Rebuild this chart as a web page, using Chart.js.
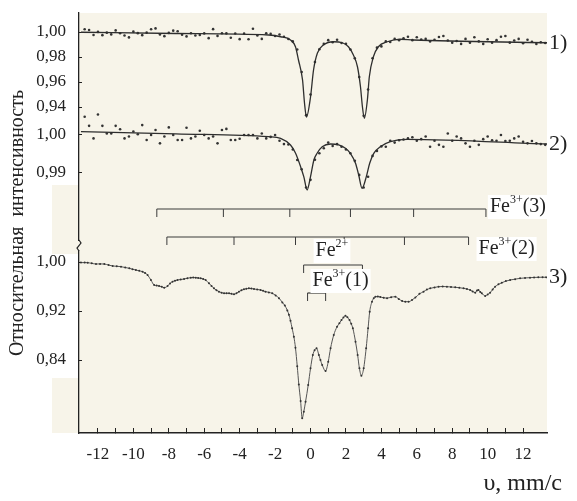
<!DOCTYPE html>
<html lang="ru">
<head>
<meta charset="UTF-8">
<title>Мёссбауэровские спектры</title>
<script src="https://cdn.jsdelivr.net/npm/chart.js"></script>
<style>
  html, body { margin: 0; padding: 0; background: #fff; }
  canvas { display: block; }
</style>
</head>
<body>
<canvas id="spectra" width="577" height="501"></canvas>
<script>
// channel velocities (mm/s) of the measured points in spectra 1) and 2)
const velocity = [
  -12.75, -12.5, -12.25, -12, -11.75, -11.5, -11.25, -11, -10.75, -10.5,
  -10.25, -10, -9.75, -9.5, -9.25, -9, -8.75, -8.5, -8.25, -8,
  -7.75, -7.5, -7.25, -7, -6.75, -6.5, -6.25, -6, -5.75, -5.5,
  -5.25, -5, -4.75, -4.5, -4.25, -4, -3.75, -3.5, -3.25, -3,
  -2.75, -2.5, -2.25, -2, -1.75, -1.5, -1.25, -1, -0.75, -0.5,
  -0.25, 0, 0.25, 0.5, 0.75, 1, 1.25, 1.5, 1.75, 2,
  2.25, 2.5, 2.75, 3, 3.25, 3.5, 3.75, 4, 4.25, 4.5,
  4.75, 5, 5.25, 5.5, 5.75, 6, 6.25, 6.5, 6.75, 7,
  7.25, 7.5, 7.75, 8, 8.25, 8.5, 8.75, 9, 9.25, 9.5,
  9.75, 10, 10.25, 10.5, 10.75, 11, 11.25, 11.5, 11.75, 12,
  12.25, 12.5, 12.75, 13, 13.25
];

// spectrum 1) measured points
const spectrum1 = [
  1.0022, 1.0016, 0.9976, 1.0001, 0.9975, 0.9995, 0.9981, 1.0013, 0.9990, 0.9972,
  0.9957, 1.0003, 0.9991, 0.9975, 0.9995, 1.0022, 1.0029, 0.9981, 0.9967, 0.9993,
  1.0011, 1.0006, 0.9978, 0.9965, 0.9990, 0.9972, 0.9976, 0.9989, 0.9951, 1.0023,
  0.9969, 0.9990, 0.9989, 0.9954, 0.9988, 0.9943, 0.9987, 0.9942, 1.0026, 0.9973,
  0.9945, 0.9990, 0.9985, 0.9968, 0.9980, 0.9962, 0.9944, 0.9925, 0.9860, 0.9680,
  0.9335, 0.9500, 0.9760, 0.9862, 0.9905, 0.9935, 0.9918, 0.9938, 0.9912, 0.9905,
  0.9860, 0.9790, 0.9640, 0.9330, 0.9540, 0.9790, 0.9875, 0.9885, 0.9925, 0.9920,
  0.9945, 0.9935, 0.9950, 0.9962, 0.9935, 0.9958, 0.9940, 0.9945, 0.9925, 0.9938,
  0.9960, 0.9968, 0.9932, 0.9915, 0.9928, 0.9905, 0.9945, 0.9915, 0.9958, 0.9925,
  0.9905, 0.9942, 0.9915, 0.9935, 0.9962, 0.9968, 0.9915, 0.9932, 0.9945, 0.9910,
  0.9938, 0.9922, 0.9905, 0.9918, 0.9912
];

// spectrum 2) measured points
const spectrum2 = [
  1.0048, 1.0024, 0.9991, 1.0054, 1.0024, 1.0004, 1.0004, 1.0024, 1.0015, 0.9991,
  0.9996, 1.0009, 1.0002, 1.0026, 0.9987, 1.0000, 1.0013, 0.9978, 0.9996, 1.0020,
  1.0000, 0.9987, 0.9987, 1.0019, 0.9991, 0.9996, 1.0011, 1.0000, 0.9991, 0.9996,
  0.9978, 1.0013, 1.0016, 0.9987, 0.9987, 0.9990, 1.0000, 1.0000, 1.0000, 0.9991,
  1.0004, 0.9991, 0.9995, 1.0000, 0.9985, 0.9976, 0.9975, 0.9962, 0.9934, 0.9910,
  0.9862, 0.9882, 0.9935, 0.9952, 0.9965, 0.9980, 0.9971, 0.9976, 0.9969, 0.9962,
  0.9952, 0.9932, 0.9895, 0.9862, 0.9890, 0.9945, 0.9958, 0.9970, 0.9969, 0.9985,
  0.9980, 0.9986, 0.9988, 0.9991, 0.9994, 0.9985, 0.9989, 0.9996, 0.9969, 0.9985,
  0.9974, 0.9969, 1.0004, 0.9985, 0.9996, 0.9991, 0.9978, 0.9969, 0.9985, 0.9974,
  0.9989, 0.9996, 0.9986, 0.9985, 1.0000, 0.9984, 0.9985, 0.9991, 0.9996, 0.9982,
  0.9978, 0.9984, 0.9978, 0.9976, 0.9974
];

// fitted curves of spectra 1) and 2)
const fit1Velocity = [-12.96, -7.6, -2.37, -1.69, -1.13, -0.85, -0.68, -0.45, -0.34, -0.23,
  0, 0.17, 0.39, 0.73, 1.30, 1.80, 2.14, 2.42, 2.65, 2.82,
  2.93, 3.04, 3.21, 3.32, 3.55, 3.83, 4.34, 5.07, 5.80, 13.35];
const fit1 = [0.9998, 0.9988, 0.9976, 0.9962, 0.9936, 0.9882, 0.9776, 0.9616, 0.9432, 0.932,
  0.948, 0.9696, 0.9832, 0.9896, 0.9922, 0.9914, 0.9882, 0.9816, 0.9722, 0.9562,
  0.9402, 0.931, 0.9456, 0.9642, 0.9802, 0.9882, 0.9922, 0.9942, 0.9936, 0.9914];

const fit2Velocity = [-12.96, -7.6, -2.37, -1.69, -1.13, -0.85, -0.56, -0.38, -0.19, 0,
  0.19, 0.38, 0.66, 1.13, 1.59, 1.97, 2.25, 2.54, 2.72, 2.91,
  3.15, 3.34, 3.57, 3.94, 4.51, 5.45, 13.35];
const fit2 = [1.0009, 1.0003, 0.99955, 0.99913, 0.99737, 0.99526, 0.99166, 0.98903, 0.98553, 0.98903,
  0.99342, 0.99526, 0.99692, 0.99763, 0.99737, 0.9965, 0.99518, 0.99255, 0.98947, 0.98597,
  0.98903, 0.99255, 0.99518, 0.99692, 0.99824, 0.99887, 0.99763];

// spectrum 3)
const spectrum3Velocity = [
  -12.96, -12.75, -12.58, -12.35, -12.11, -11.88, -11.64, -11.40, -11.17, -10.94,
  -10.70, -10.46, -10.23, -10.05, -9.86, -9.67, -9.48, -9.34, -9.20, -9.01,
  -8.83, -8.69, -8.55, -8.40, -8.26, -8.07, -7.93, -7.79, -7.65, -7.51,
  -7.33, -7.14, -6.95, -6.76, -6.62, -6.48, -6.34, -6.20, -6.06, -5.92,
  -5.73, -5.59, -5.45, -5.31, -5.17, -5.02, -4.88, -4.74, -4.60, -4.46,
  -4.32, -4.18, -4.04, -3.90, -3.76, -3.62, -3.48, -3.34, -3.19, -3.01,
  -2.82, -2.68, -2.54, -2.35, -2.16, -1.97, -1.78, -1.59, -1.45, -1.31,
  -1.22, -1.13, -1.04, -0.94, -0.85, -0.75, -0.66, -0.56, -0.47, -0.38,
  -0.28, -0.13, 0.00, 0.13, 0.23, 0.34, 0.47, 0.56, 0.66, 0.85,
  1.00, 1.13, 1.31, 1.50, 1.63, 1.75, 1.86, 1.97, 2.08, 2.20,
  2.30, 2.39, 2.54, 2.66, 2.76, 2.87, 3.00, 3.14, 3.25, 3.34,
  3.47, 3.57, 3.66, 3.80, 3.94, 4.13, 4.32, 4.55, 4.79, 4.98,
  5.17, 5.35, 5.54, 5.73, 5.92, 6.15, 6.38, 6.57, 6.76, 7.00,
  7.23, 7.46, 7.70, 7.93, 8.17, 8.40, 8.64, 8.83, 9.01, 9.15,
  9.30, 9.40, 9.48, 9.58, 9.67, 9.86, 10.00, 10.14, 10.28, 10.42,
  10.61, 10.80, 11.03, 11.27, 11.55, 11.83, 12.11, 12.39, 12.62, 12.86,
  13.10, 13.30
];
const spectrum3 = [
  0.9990, 0.9990, 0.9989, 0.9978, 0.9967, 0.9969, 0.9967, 0.9950, 0.9935, 0.9930,
  0.9924, 0.9910, 0.9897, 0.9882, 0.9869, 0.9856, 0.9842, 0.9820, 0.9788, 0.9706,
  0.9624, 0.9615, 0.9608, 0.9596, 0.9580, 0.9608, 0.9650, 0.9679, 0.9695, 0.9706,
  0.9714, 0.9722, 0.9735, 0.9744, 0.9746, 0.9744, 0.9740, 0.9733, 0.9722, 0.9706,
  0.9652, 0.9610, 0.9570, 0.9540, 0.9516, 0.9500, 0.9489, 0.9490, 0.9489, 0.9480,
  0.9472, 0.9490, 0.9516, 0.9538, 0.9554, 0.9563, 0.9570, 0.9566, 0.9559, 0.9552,
  0.9543, 0.9530, 0.9516, 0.9504, 0.9489, 0.9455, 0.9410, 0.9340, 0.9290, 0.9210,
  0.9140, 0.9040, 0.8920, 0.8780, 0.8600, 0.8300, 0.8000, 0.7730, 0.7450, 0.7556,
  0.7720, 0.7990, 0.8264, 0.8482, 0.8560, 0.8590, 0.8482, 0.8400, 0.8318, 0.8220,
  0.8372, 0.8590, 0.8808, 0.8944, 0.9000, 0.9053, 0.9095, 0.9123, 0.9100, 0.9053,
  0.8990, 0.8918, 0.8699, 0.8482, 0.8264, 0.8144, 0.8264, 0.8590, 0.8918, 0.9189,
  0.9352, 0.9410, 0.9434, 0.9435, 0.9430, 0.9415, 0.9410, 0.9425, 0.9434, 0.9395,
  0.9365, 0.9352, 0.9352, 0.9380, 0.9420, 0.9480, 0.9516, 0.9550, 0.9570, 0.9585,
  0.9597, 0.9600, 0.9597, 0.9592, 0.9587, 0.9580, 0.9570, 0.9558, 0.9543, 0.9520,
  0.9500, 0.9535, 0.9543, 0.9510, 0.9489, 0.9445, 0.9470, 0.9500, 0.9550, 0.9597,
  0.9635, 0.9662, 0.9688, 0.9706, 0.9720, 0.9733, 0.9740, 0.9744, 0.9748, 0.9750,
  0.9752, 0.9750
];

// axis ticks
const velocityTicks = [-12, -11, -10, -9, -8, -7, -6, -5, -4, -3, -2, -1, 0,
  1, 2, 3, 4, 5, 6, 7, 8, 9, 10, 11, 12];
const ticks1 = [1.00, 0.98, 0.96, 0.94];
const ticks1Labels = ['1,00', '0,98', '0,96', '0,94'];
const ticks2 = [1.00, 0.99];
const ticks2Labels = ['1,00', '0,99'];
const ticks3 = [1.00, 0.92, 0.84];
const ticks3Labels = ['1,00', '0,92', '0,84'];

// line positions of the subspectra (stick diagrams)
const markerLines = [
  [-8.68, -4.92, -1.17, 2.25, 5.82, 9.90],
  [-8.11, -4.32, -0.85, 1.9, 5.30, 8.92],
  [-0.39, 2.93],
  [-0.17, 0.85]
];
const markerLevels = [4, 3, 2, 1];
const markerCharges = ['3+', '3+', '2+', '3+'];
const markerSites = ['(3)', '(2)', '', '(1)'];
const spectrumNames = ['1)', '2)', '3)'];

const serif = "'Liberation Serif', 'Times New Roman', serif";
const ink = '#222222';
Chart.defaults.font.family = serif;

const pts = (xs, ys) => xs.map((x, i) => ({ x: x, y: ys[i] }));

// hanging tick used as the point style of the stick diagrams
const tickMark = document.createElement('canvas');
tickMark.width = 3;
tickMark.height = 16;
const tctx = tickMark.getContext('2d');
tctx.fillStyle = '#3a3a3a';
tctx.fillRect(1, 8, 1, 8);

function noPadding(s) {
  s.paddingTop = 0; s.paddingBottom = 0; s.paddingLeft = 0; s.paddingRight = 0;
}

function drawIon(ctx, x, y, charge, site) {
  ctx.textBaseline = 'middle';
  ctx.textAlign = 'left';
  ctx.font = '20px ' + serif;
  const w1 = ctx.measureText('Fe').width;
  const w3 = ctx.measureText(site).width;
  ctx.font = '12px ' + serif;
  const w2 = ctx.measureText(charge).width;
  ctx.fillStyle = '#ffffff';
  ctx.fillRect(x - 2, y - 12, w1 + w2 + w3 + 4, 24);
  ctx.fillStyle = ink;
  ctx.fillText(charge, x + w1, y - 7);
  ctx.font = '20px ' + serif;
  ctx.fillText('Fe', x, y);
  ctx.fillText(site, x + w1 + w2, y);
}

const labelOffsets = [[4, -2], [10, 12], [12, -14], [5, -12]];

const paper = {
  id: 'paper',
  afterLayout(chart) {
    // the zero-width axes of spectra 2) and 3) write their labels in the strip of axis 1)
    ['y2', 'y3'].forEach(id => { chart.scales[id].left = chart.scales.y1.left; });
  },
  beforeDraw(chart) {
    const { ctx, chartArea: a, scales } = chart;
    ctx.save();
    ctx.fillStyle = '#f7f4e9';
    ctx.fillRect(a.left - 27, a.top, a.right - a.left + 27, a.bottom - a.top);
    ctx.fillStyle = '#ffffff';
    const end2 = scales.y2.getPixelForValue(ticks2[ticks2.length - 1]) + 12;
    ctx.fillRect(a.left - 27, a.top, 26, end2 - a.top);
    const s3 = scales.y3.getPixelForValue(ticks3[0]) - 8;
    const e3 = scales.y3.getPixelForValue(ticks3[ticks3.length - 1]) + 18;
    ctx.fillRect(a.left - 27, s3, 26, e3 - s3);
    ctx.restore();
  },
  afterDatasetsDraw(chart) {
    const { ctx, chartArea: a, scales } = chart;
    ctx.save();
    markerLines.forEach((lines, k) => {
      const anchor = k < 2 ? lines[lines.length - 1] : lines[0];
      const x = scales.x.getPixelForValue(anchor) + labelOffsets[k][0];
      const y = scales.ym.getPixelForValue(markerLevels[k]) + labelOffsets[k][1];
      drawIon(ctx, x, y, markerCharges[k], markerSites[k]);
    });
    const ends = [
      scales.y1.getPixelForValue(fit1[fit1.length - 1]),
      scales.y2.getPixelForValue(fit2[fit2.length - 1]),
      scales.y3.getPixelForValue(spectrum3[spectrum3.length - 1])
    ];
    ctx.font = '22px ' + serif;
    ctx.fillStyle = ink;
    ctx.textAlign = 'left';
    ctx.textBaseline = 'middle';
    spectrumNames.forEach((name, k) => ctx.fillText(name, a.right + 2, ends[k]));
    ctx.restore();
  },
  afterDraw(chart) {
    const { ctx, chartArea: a, scales } = chart;
    ctx.save();
    // break of the intensity axis
    const yb = scales.y3.getPixelForValue(ticks3[0]) - 17;
    ctx.fillStyle = '#f7f4e9';
    ctx.fillRect(a.left - 3, yb - 4, 6, 9);
    ctx.strokeStyle = ink;
    ctx.lineWidth = 1.2;
    ctx.beginPath();
    ctx.moveTo(a.left, yb - 5);
    ctx.lineTo(a.left + 2, yb - 2);
    ctx.lineTo(a.left - 2, yb + 3);
    ctx.lineTo(a.left, yb + 6);
    ctx.stroke();
    // unit of the velocity axis
    ctx.font = '24px ' + serif;
    ctx.fillStyle = ink;
    ctx.textAlign = 'right';
    ctx.textBaseline = 'alphabetic';
    ctx.fillText('υ, mm/c', a.right + 15, 490);
    ctx.restore();
  }
};

const dotStyle = {
  type: 'scatter', showLine: false, pointRadius: 1.3, pointHoverRadius: 1.3,
  pointBackgroundColor: '#333333', pointBorderWidth: 0
};
const fitStyle = {
  type: 'line', showLine: true, pointRadius: 0, borderColor: '#2e2e2e',
  borderWidth: 1.3, cubicInterpolationMode: 'monotone', fill: false
};

const datasets = [
  Object.assign({ data: pts(fit1Velocity, fit1), yAxisID: 'y1' }, fitStyle),
  Object.assign({ data: pts(velocity, spectrum1), yAxisID: 'y1' }, dotStyle),
  Object.assign({ data: pts(fit2Velocity, fit2), yAxisID: 'y2' }, fitStyle),
  Object.assign({ data: pts(velocity, spectrum2), yAxisID: 'y2' }, dotStyle),
  {
    type: 'line', data: pts(spectrum3Velocity, spectrum3), yAxisID: 'y3',
    showLine: true, borderColor: '#555555', borderWidth: 1, cubicInterpolationMode: 'monotone',
    pointRadius: 1, pointBackgroundColor: '#333333', pointBorderWidth: 0, fill: false
  }
].concat(markerLines.map((lines, k) => ({
  type: 'line', data: lines.map(v => ({ x: v, y: markerLevels[k] })), yAxisID: 'ym',
  showLine: true, borderColor: '#3a3a3a', borderWidth: 1.2, fill: false,
  pointStyle: tickMark, pointRadius: 4
})));

function intensityAxis(values, labels, lo, hi, extra) {
  return Object.assign({
    type: 'linear', position: 'left', min: lo, max: hi, weight: 0,
    afterBuildTicks: s => { s.ticks = values.map(v => ({ value: v })); },
    afterFit: s => { s.width = 0; noPadding(s); },
    ticks: { callback: (v, i) => labels[i], padding: 16, color: ink, font: { size: 17 } },
    grid: { drawOnChartArea: false, tickLength: -3, tickColor: ink },
    border: { display: false }
  }, extra || {});
}

new Chart(document.getElementById('spectra'), {
  type: 'scatter',
  data: { datasets: datasets },
  plugins: [paper],
  options: {
    responsive: false,
    animation: false,
    events: [],
    layout: { padding: { top: 13, right: 30, bottom: 0, left: 0 } },
    plugins: { legend: { display: false }, tooltip: { enabled: false } },
    scales: {
      x: {
        type: 'linear', position: 'bottom', min: -13.07, max: 13.35,
        afterBuildTicks: s => { s.ticks = velocityTicks.map(v => ({ value: v })); },
        afterFit: s => { s.height = 68; noPadding(s); },
        ticks: {
          callback: v => (v % 2 === 0 ? String(v) : ''),
          autoSkip: false, maxRotation: 0, padding: 16, color: ink, font: { size: 17 }
        },
        grid: { drawOnChartArea: false, tickLength: -5, tickColor: ink },
        border: { color: ink, width: 1.4 }
      },
      y1: intensityAxis(ticks1, ticks1Labels, 0.6792, 1.0152, {
        weight: 10,
        afterFit: s => { s.width = 79; noPadding(s); },
        border: { display: true, color: ink, width: 1.3 },
        title: {
          display: true, text: 'Относительная  интенсивность', color: ink,
          font: { size: 20 }, padding: { top: 6, bottom: 0 }
        }
      }),
      y2: intensityAxis(ticks2, ticks2Labels, 0.92158, 1.0321),
      y3: intensityAxis(ticks3, ticks3Labels, 0.72082, 1.40653),
      ym: { type: 'linear', display: false, min: -4, max: 11 }
    }
  }
});
</script>
</body>
</html>
